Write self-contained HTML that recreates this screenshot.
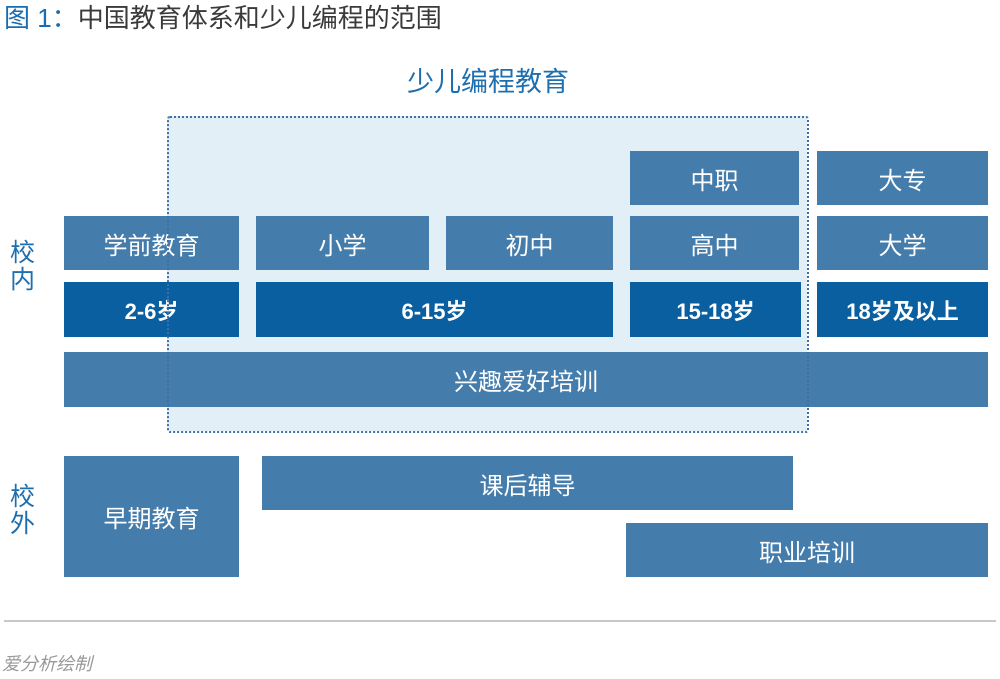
<!DOCTYPE html>
<html><head><meta charset="utf-8"><style>
body{margin:0;width:1000px;height:679px;background:#fff;position:relative;overflow:hidden;font-family:"Liberation Sans","Noto Sans CJK SC",sans-serif}
.a{position:absolute}
.b{position:absolute;background:#447cab;color:#fff;display:flex;align-items:center;justify-content:center;font-size:24px}
.d{background:#0a5fa1;font-weight:bold;font-size:22px}
</style></head><body>
<div class="a" style="left:4px;top:-2px;font-size:26px;color:#3a3a3a;white-space:nowrap"><span style="color:#1a6db0">图 1：</span>中国教育体系和少儿编程的范围</div>
<div class="a" style="left:167px;top:116px;width:640px;height:315px;background:#e2eff7"></div>
<div class="a" style="left:330px;top:60px;width:316px;text-align:center;font-size:27px;color:#1f6fae">少儿编程教育</div>
<div class="a" style="left:10px;top:240px;width:30px;font-size:25px;line-height:27px;color:#1f6fae">校<br>内</div>
<div class="a" style="left:10px;top:484px;width:30px;font-size:25px;line-height:27px;color:#1f6fae">校<br>外</div>
<div class="b" style="left:630px;top:151px;width:169px;height:54px">中职</div>
<div class="b" style="left:817px;top:151px;width:171px;height:54px">大专</div>
<div class="b" style="left:64px;top:216px;width:175px;height:54px">学前教育</div>
<div class="b" style="left:256px;top:216px;width:173px;height:54px">小学</div>
<div class="b" style="left:446px;top:216px;width:167px;height:54px">初中</div>
<div class="b" style="left:630px;top:216px;width:169px;height:54px">高中</div>
<div class="b" style="left:817px;top:216px;width:171px;height:54px">大学</div>
<div class="b d" style="left:64px;top:282px;width:175px;height:55px">2-6岁</div>
<div class="b d" style="left:256px;top:282px;width:357px;height:55px">6-15岁</div>
<div class="b d" style="left:630px;top:282px;width:171px;height:55px">15-18岁</div>
<div class="b d" style="left:817px;top:282px;width:171px;height:55px">18岁及以上</div>
<div class="b" style="left:64px;top:352px;width:924px;height:55px">兴趣爱好培训</div>
<div class="a" style="left:167px;top:116px;width:638px;height:313px;border:2px dotted #3f6fa8;border-radius:3px"></div>
<div class="b" style="left:64px;top:456px;width:175px;height:121px">早期教育</div>
<div class="b" style="left:262px;top:456px;width:531px;height:54px">课后辅导</div>
<div class="b" style="left:626px;top:523px;width:362px;height:54px">职业培训</div>
<div class="a" style="left:4px;top:620px;width:992px;height:2px;background:#c8c8c8"></div>
<div class="a" style="left:2px;top:650px;font-size:18px;font-style:italic;color:#999">爱分析绘制</div>
</body></html>
